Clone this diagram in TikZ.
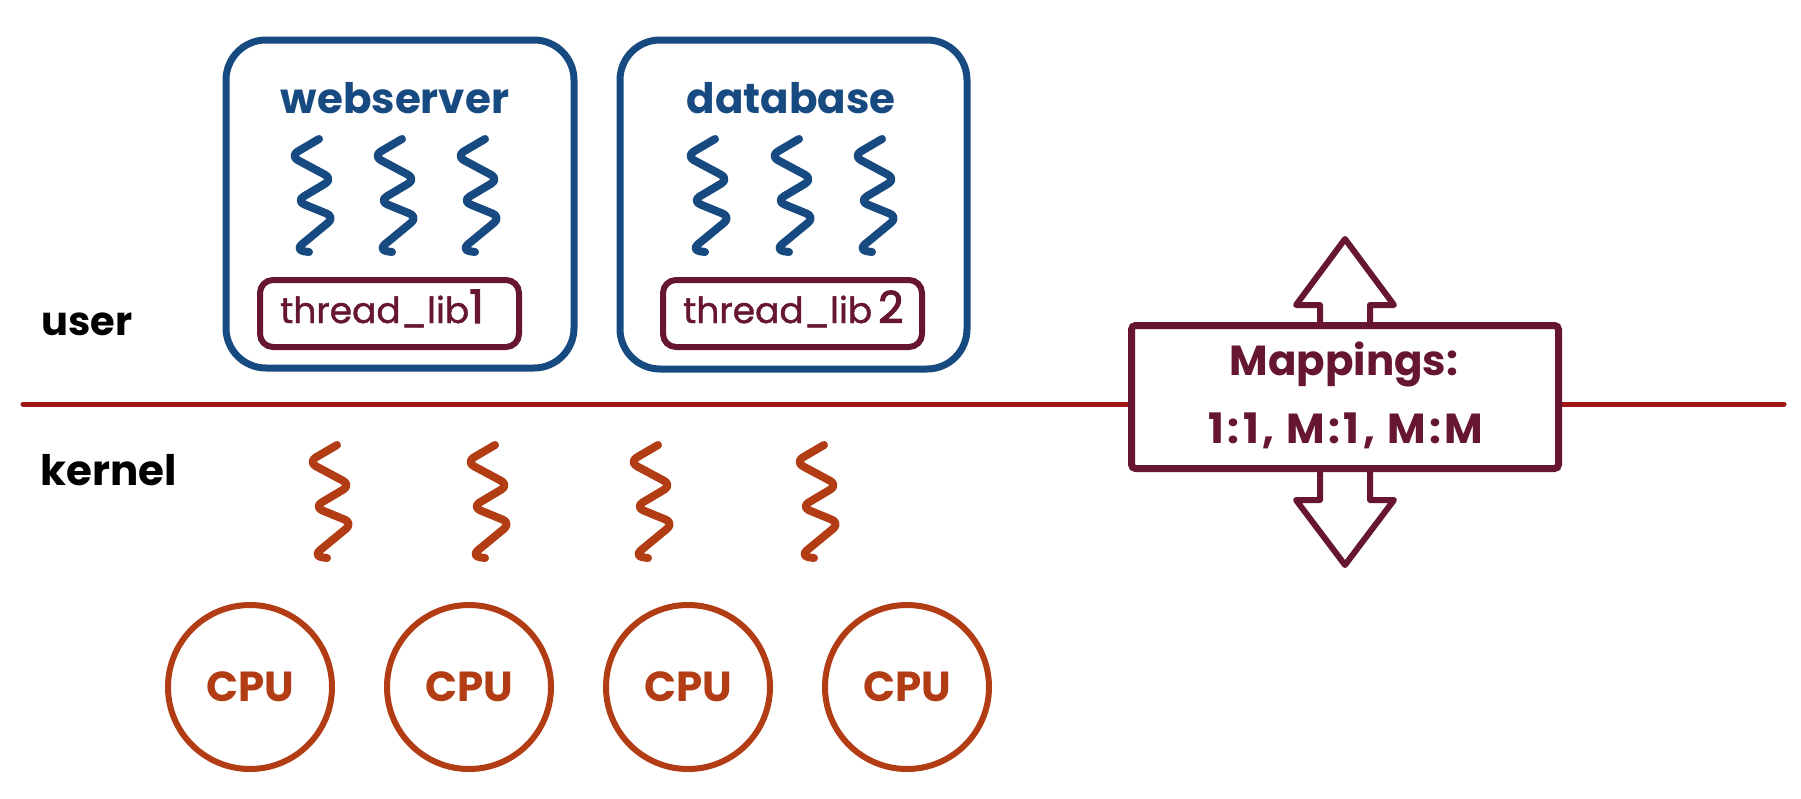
\documentclass[tikz,border=0pt]{standalone}
\usepackage{fontspec}
\setmainfont{Poppins}
\usetikzlibrary{calc}
\definecolor{tblue}{HTML}{174A80}
\definecolor{maroon}{HTML}{66172F}
\definecolor{redline}{HTML}{A01616}
\definecolor{rust}{HTML}{B23C14}
\begin{document}
\begin{tikzpicture}[x=1pt,y=-1pt,
  squig/.pic={\draw[line width=8pt,line cap=round,line join=round,rounded corners=9pt]
     (32,2) -- (3,19) -- (46,42) -- (9,64) -- (48,80) -- (8,113) -- (22,115);},
  procbox/.style={draw=tblue,line width=7pt,rounded corners=40pt,inner sep=0pt},
  libbox/.style={draw=maroon,line width=6pt,rounded corners=13pt,inner sep=0pt},
  cpu/.style={circle,draw=rust,line width=6pt,minimum size=164pt,inner sep=0pt,
     text=rust,font=\bfseries\fontsize{42}{42}\selectfont},
  big/.style={font=\bfseries\fontsize{42}{42}\selectfont,inner sep=0pt},
  libtext/.style={font=\fontsize{36}{36}\selectfont\addfontfeature{FakeBold=1.2},
     text=maroon,inner sep=0pt,anchor=base west},
  arrowshape/.style={draw=maroon,line width=6pt,line join=round,fill=white}]
\useasboundingbox (0,0) rectangle (1801,798);

% user / kernel labels
\node[font=\bfseries\fontsize{40}{40}\selectfont,inner sep=0pt,anchor=base west] (user) at (41,335) {user};
\node[big,anchor=base west] (kernel) at (40,485) {kernel};

% process boxes
\node[procbox,minimum width=348pt,minimum height=328pt] (web) at (400,204) {};
\node[procbox,minimum width=347pt,minimum height=329pt] (db) at (793.5,204.5) {};
\node[big,text=tblue,anchor=base] (webt) at (395,113) {webserver};
\node[big,text=tblue,anchor=base] (dbt) at (791,113) {database};

\node[libbox,minimum width=259pt,minimum height=67pt] (lib1) at (389.5,313.5) {};
\node[libbox,minimum width=259pt,minimum height=67pt] (lib2) at (792.5,313.5) {};
\node[libtext] (lib1t) at (280,323) {thread\_lib{\fontsize{46}{46}\selectfont\addfontfeature{FakeBold=2.5}1}};
\node[libtext] (lib2t) at (683,323) {thread\_lib\,{\fontsize{44}{44}\selectfont\addfontfeature{FakeBold=2.5}2}};

% user threads
\foreach \x in {287,370,453,683,767,850}
  \pic[color=tblue] at (\x,137) {squig};

% kernel threads
\foreach \x in {305,463,626,792}
  \pic[color=rust] at (\x,443) {squig};

% CPUs
\node[cpu] (cpu1) at (250,687) {CPU};
\node[cpu] (cpu2) at (469,687) {CPU};
\node[cpu] (cpu3) at (688,687) {CPU};
\node[cpu] (cpu4) at (907,687) {CPU};

% user/kernel boundary
\coordinate (lineL) at (23,404);
\coordinate (lineR) at (1784,404);
\draw[redline,line width=5pt,line cap=round] (lineL) -- (lineR);

% mappings box with arrows
\coordinate (mapc) at (1345,397);
\draw[arrowshape] ($(mapc)+(-25,-68)$) -- ++(0,-24) -- ++(-24,0) -- ++(49,-66)
   -- ++(49,66) -- ++(-24,0) -- ++(0,24);
\draw[arrowshape] ($(mapc)+(-25,68)$) -- ++(0,35) -- ++(-24,0) -- ++(49,65)
   -- ++(49,-65) -- ++(-24,0) -- ++(0,-35);
\node[draw=maroon,line width=7pt,fill=white,rounded corners=4pt,
  minimum width=427pt,minimum height=143pt,inner sep=0pt] (map) at (mapc) {};
\node[big,text=maroon,anchor=base] (mapt1) at (1344,375) {Mappings:};
\node[big,text=maroon,anchor=base,font=\bfseries\fontsize{42}{42}\selectfont\addfontfeature{LetterSpace=8}] (mapt2) at (1346,443) {1:1, M:1, M:M};
\end{tikzpicture}
\end{document}
